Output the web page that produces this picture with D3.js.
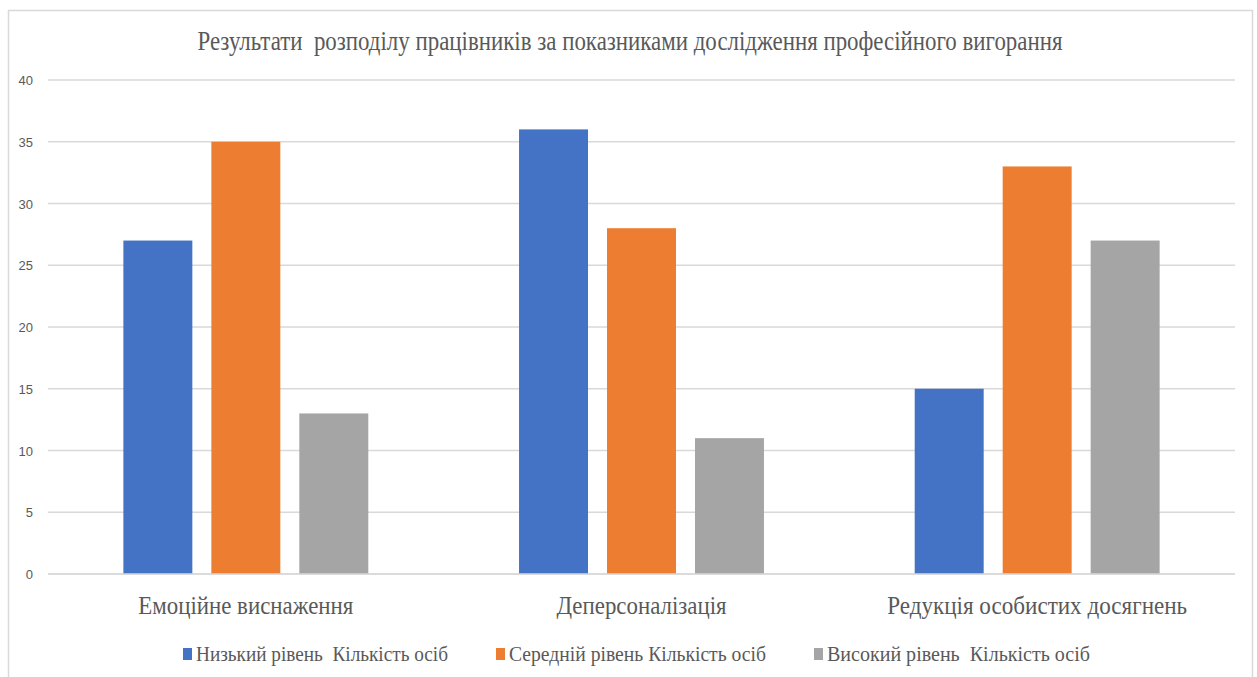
<!DOCTYPE html>
<html>
<head>
<meta charset="utf-8">
<script src="https://cdn.jsdelivr.net/npm/d3@7"></script>
<style>
  body { margin: 0; background: #fff; }
  svg { display: block; }
  text { white-space: pre; }
</style>
</head>
<body>
<svg id="chart" width="1257" height="677"></svg>
<script>
const title = 'Результати  розподілу працівників за показниками дослідження професійного вигорання';
const categories = ['Емоційне виснаження', 'Деперсоналізація', 'Редукція особистих досягнень'];
const seriesNames = ['Низький рівень  Кількість осіб', 'Середній рівень Кількість осіб', 'Високий рівень  Кількість осіб'];
const lowValues = [27, 36, 15];
const midValues = [35, 28, 33];
const highValues = [13, 11, 27];
const yTicks = [0, 5, 10, 15, 20, 25, 30, 35, 40];
const colors = ['#4472C4', '#ED7D31', '#A5A5A5'];

const seriesValues = [lowValues, midValues, highValues];
const textColor = '#595959';
const serif = "'Liberation Serif', 'DejaVu Serif', serif";
const sans = "'Liberation Sans', Arial, sans-serif";
const svg = d3.select('#chart');

// chart frame
svg.append('rect')
    .attr('x', 8.5).attr('y', 10.5)
    .attr('width', 1244).attr('height', 700)
    .attr('fill', '#fff')
    .attr('stroke', '#d9d9d9')
    .attr('stroke-width', 1.5);

const plot = { left: 48, right: 1235, top: 80, bottom: 574 };

const y = d3.scaleLinear().domain([0, 40]).range([plot.bottom, plot.top]);
const x0 = d3.scaleBand().domain(categories).range([plot.left, plot.right])
    .paddingInner(0.381).paddingOuter(0.1905);
const x1 = d3.scaleBand().domain(seriesNames).range([0, x0.bandwidth()])
    .paddingInner(0.216).paddingOuter(0);

// gridlines
svg.append('g')
    .selectAll('line')
    .data(yTicks)
    .enter()
    .append('line')
    .attr('x1', plot.left).attr('x2', plot.right)
    .attr('y1', d => y(d)).attr('y2', d => y(d))
    .attr('stroke', '#d9d9d9')
    .attr('stroke-width', 1.5);

// y labels
svg.append('g')
    .selectAll('text')
    .data(yTicks)
    .enter()
    .append('text')
    .attr('x', 33)
    .attr('y', d => y(d) + 5)
    .attr('text-anchor', 'end')
    .attr('font-family', sans)
    .attr('font-size', 13)
    .attr('fill', textColor)
    .text(d => d);

// bars
const groups = svg.append('g')
    .selectAll('g')
    .data(categories)
    .enter()
    .append('g')
    .attr('transform', d => `translate(${x0(d)},0)`);

groups.selectAll('rect')
    .data((c, ci) => seriesNames.map((s, si) => ({ s, si, v: seriesValues[si][ci] })))
    .enter()
    .append('rect')
    .attr('x', d => x1(d.s))
    .attr('width', x1.bandwidth())
    .attr('y', d => y(d.v))
    .attr('height', d => y(0) - y(d.v))
    .attr('fill', d => colors[d.si]);

// baseline redrawn over bars
svg.append('line')
    .attr('x1', plot.left).attr('x2', plot.right)
    .attr('y1', y(0)).attr('y2', y(0))
    .attr('stroke', '#d9d9d9').attr('stroke-width', 1.5);

// category labels
const catWidths = [215, 170, 300];
svg.append('g')
    .selectAll('text')
    .data(categories)
    .enter()
    .append('text')
    .attr('x', d => x0(d) + x0.bandwidth() / 2)
    .attr('y', 614)
    .attr('text-anchor', 'middle')
    .attr('font-family', serif)
    .attr('font-size', 25)
    .attr('fill', textColor)
    .attr('textLength', (d, i) => catWidths[i])
    .attr('lengthAdjust', 'spacingAndGlyphs')
    .text(d => d);

// title
svg.append('text')
    .attr('x', 630)
    .attr('y', 50)
    .attr('text-anchor', 'middle')
    .attr('font-family', serif)
    .attr('font-size', 27)
    .attr('fill', textColor)
    .attr('textLength', 865)
    .attr('lengthAdjust', 'spacingAndGlyphs')
    .text(title);

// legend
const legendX = [183, 496, 814];
const legendW = [252, 257, 263];
const legend = svg.append('g')
    .selectAll('g')
    .data(seriesNames)
    .enter()
    .append('g')
    .attr('transform', (d, i) => `translate(${legendX[i]},0)`);

legend.append('rect')
    .attr('x', 0).attr('y', 648)
    .attr('width', 9).attr('height', 12)
    .attr('fill', (d, i) => colors[i]);

legend.append('text')
    .attr('x', 13)
    .attr('y', 661)
    .attr('font-family', serif)
    .attr('font-size', 21)
    .attr('fill', textColor)
    .attr('textLength', (d, i) => legendW[i])
    .attr('lengthAdjust', 'spacingAndGlyphs')
    .text(d => d);
</script>
</body>
</html>
